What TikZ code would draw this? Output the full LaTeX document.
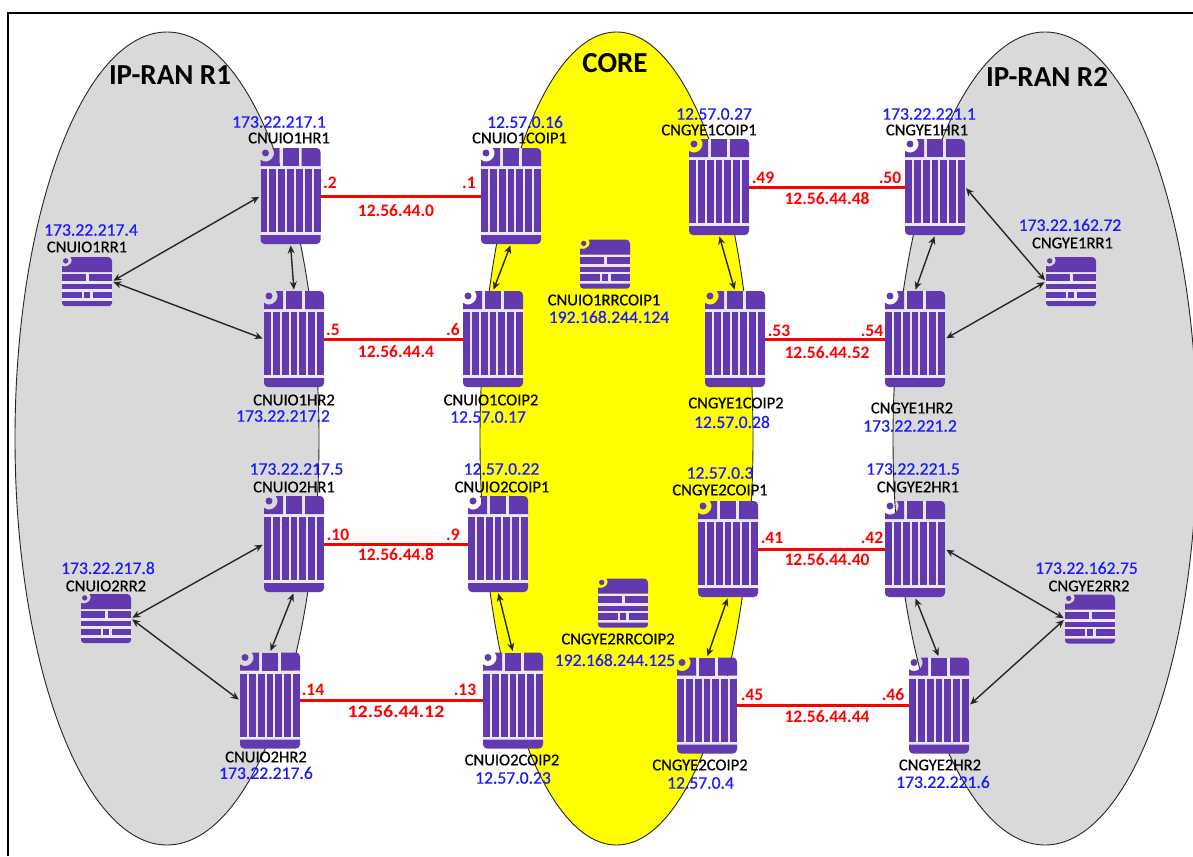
\documentclass[tikz,border=0pt]{standalone}
\usepackage{fontspec}
\setmainfont{Carlito}
\newfontfamily\labelfont[FakeBold=0.5]{Carlito}
\usetikzlibrary{arrows.meta}
\definecolor{devpurple}{HTML}{6339B0}
\definecolor{devgap}{HTML}{EDE8F7}
\definecolor{zonegray}{HTML}{D9D9D9}
\definecolor{corey}{HTML}{FFFF00}
\definecolor{ipblue}{HTML}{1A1AFF}
\definecolor{linkred}{HTML}{FF0000}
\tikzset{
  zone/.style={draw=black!85,line width=0.9pt},
  routerbox/.style={minimum width=60pt,minimum height=96pt,inner sep=0pt,outer sep=0pt},
  rrbox/.style={minimum width=50pt,minimum height=49pt,inner sep=0pt,outer sep=0pt},
  devname/.style={inner sep=0pt,text=black,font=\labelfont\fontsize{16.6}{17}\selectfont},
  devip/.style={inner sep=0pt,text=ipblue,font=\labelfont\fontsize{17.6}{18}\selectfont},
  linklabel/.style={inner sep=0pt,text=linkred,font=\fontsize{17.5}{18}\selectfont\bfseries},
  zonetitle/.style={inner sep=0pt,text=black,font=\fontsize{29}{30}\selectfont\bfseries},
  redlink/.style={draw=linkred,line width=3pt},
  peer/.style={draw=black!85,line width=1.4pt,{Stealth[length=8pt,width=7pt]}-{Stealth[length=8pt,width=7pt]},shorten >=1.5pt,shorten <=1.5pt},
  routericon/.pic={
    \fill[devgap] (19,0) rectangle (41,18);
    \fill[devgap] (0,18) rectangle (60,87);
    \fill[devpurple] (0,11.87) .. controls (7.83,17.57) and (17.57,7.83) .. (11.87,0) -- (19,0) -- (19,18) -- (0,18) -- cycle;
    \fill[devpurple] (5,5) circle (3.5);
    \fill[devpurple] (22,0) rectangle (38,18);
    \fill[devpurple] (41,0) -- (56,0) .. controls (58.2,0) and (60,1.8) .. (60,4) -- (60,18) -- (41,18) -- cycle;
    \foreach \i in {0,...,6} {\fill[devpurple] ({\i*8.86},21) rectangle ({\i*8.86+6.86},84);}
    \fill[devpurple] (0,87) -- (60,87) -- (60,92) .. controls (60,94.2) and (58.2,96) .. (56,96) -- (4,96) .. controls (1.8,96) and (0,94.2) .. (0,92) -- cycle;
  },
  rricon/.pic={
    \fill[devgap] (0,15) rectangle (50,44);
    \fill[devpurple] (8.5,0) -- (46,0) .. controls (48.2,0) and (50,1.8) .. (50,4) -- (50,15) -- (0,15) -- (0,9) .. controls (8,11) and (12,4) .. (8.5,0) -- cycle;
    \fill[devpurple] (3.7,3.9) circle (2.7);
    \fill[devpurple] (0,17) rectangle (24,24);
    \fill[devpurple] (27,17) rectangle (50,24);
    \fill[devpurple] (0,27) rectangle (50,32);
    \fill[devpurple] (0,34.5) rectangle (19.5,41);
    \fill[devpurple] (22,34.5) rectangle (28,41);
    \fill[devpurple] (30.5,34.5) rectangle (50,41);
    \fill[devpurple] (0,44) -- (50,44) -- (50,46) .. controls (50,47.7) and (48.7,49) .. (47,49) -- (3,49) .. controls (1.3,49) and (0,47.7) .. (0,46) -- cycle;
  }
}
\newcommand{\routerat}[3]{\node[routerbox] (#1) at (#2,#3) {}; \pic at (#1.north west) {routericon};}
\newcommand{\rrat}[3]{\node[rrbox] (#1) at (#2,#3) {}; \pic at (#1.north west) {rricon};}
\begin{document}
\begin{tikzpicture}[x=1pt,y=-1pt]
\useasboundingbox (0,0) rectangle (1193,856);
\clip (0,0) rectangle (1193,856);
\fill[white] (0,0) rectangle (1193,856);
% zones
\filldraw[zone,fill=zonegray] (167,438.5) ellipse [x radius=152,y radius=406.5];
\filldraw[zone,fill=corey] (616.5,438.5) ellipse [x radius=136.5,y radius=406.5];
\filldraw[zone,fill=zonegray] (1045,438.5) ellipse [x radius=152,y radius=406.5];
% frame
\draw[black,line width=2.4pt] (8,856) -- (8,13) -- (1193,13);
% devices
\routerat{uhra}{290.5}{196}
\routerat{uhrb}{294}{339}
\routerat{uhrc}{294}{544}
\routerat{uhrd}{270}{700.5}
\routerat{ucoa}{511}{196}
\routerat{ucob}{493}{339}
\routerat{ucoc}{498}{544}
\routerat{ucod}{513}{700.5}
\routerat{gcoa}{719}{187}
\routerat{gcob}{735}{339}
\routerat{gcoc}{728}{549}
\routerat{gcod}{707}{705.5}
\routerat{ghra}{935}{187}
\routerat{ghrb}{915}{339}
\routerat{ghrc}{915}{549}
\routerat{ghrd}{939}{705.5}
\rrat{urra}{87}{281.5}
\rrat{urrb}{106}{618.5}
\rrat{corea}{605}{264}
\rrat{coreb}{623}{603}
\rrat{grra}{1071}{281.5}
\rrat{grrb}{1090}{619}
% red links
\draw[redlink] (uhra) -- (ucoa);
\draw[redlink] (uhrb) -- (ucob);
\draw[redlink] (uhrc) -- (ucoc);
\draw[redlink] (uhrd) -- (ucod);
\draw[redlink] (gcoa) -- (ghra);
\draw[redlink] (gcob) -- (ghrb);
\draw[redlink] (gcoc) -- (ghrc);
\draw[redlink] (gcod) -- (ghrd);
% peer links
\draw[peer] (urra.east) -- (uhra.west);
\draw[peer] (urra.east) -- (uhrb.west);
\draw[peer] (urrb.east) -- (uhrc.west);
\draw[peer] (urrb.east) -- (uhrd.west);
\draw[peer] (uhra.south) -- (uhrb.north);
\draw[peer] (uhrc.south) -- (uhrd.north);
\draw[peer] (ucoa.south) -- (ucob.north);
\draw[peer] (ucoc.south) -- (ucod.north);
\draw[peer] (gcoa.south) -- (gcob.north);
\draw[peer] (gcoc.south) -- (gcod.north);
\draw[peer] (ghra.south) -- (ghrb.north);
\draw[peer] (ghrc.south) -- (ghrd.north);
\draw[peer] (grra.west) -- (ghra.east);
\draw[peer] (grra.west) -- (ghrb.east);
\draw[peer] (grrb.west) -- (ghrc.east);
\draw[peer] (grrb.west) -- (ghrd.east);
% titles
\node[zonetitle] (t1) at (170,75) {IP-RAN R1};
\node[zonetitle] (t2) at (615,63) {CORE};
\node[zonetitle] (t3) at (1047,77) {IP-RAN R2};
% device names
\node[devname] (n1) at (289,138) {CNUIO1HR1};
\node[devname] (n2) at (519.5,138) {CNUIO1COIP1};
\node[devname] (n3) at (709,130) {CNGYE1COIP1};
\node[devname] (n4) at (927,130) {CNGYE1HR1};
\node[devname] (n5) at (87,247) {CNUIO1RR1};
\node[devname] (n6) at (1072.5,243) {CNGYE1RR1};
\node[devname] (n7) at (604,300) {CNUIO1RRCOIP1};
\node[devname] (n8) at (294,400) {CNUIO1HR2};
\node[devname] (n9) at (491,400) {CNUIO1COIP2};
\node[devname] (n10) at (736,403) {CNGYE1COIP2};
\node[devname] (n11) at (912,408) {CNGYE1HR2};
\node[devname] (n12) at (294,487) {CNUIO2HR1};
\node[devname] (n13) at (502,487) {CNUIO2COIP1};
\node[devname] (n14) at (720,490) {CNGYE2COIP1};
\node[devname] (n15) at (918,487) {CNGYE2HR1};
\node[devname] (n16) at (106,586) {CNUIO2RR2};
\node[devname] (n17) at (1089,586) {CNGYE2RR2};
\node[devname] (n18) at (618,639) {CNGYE2RRCOIP2};
\node[devname] (n19) at (266,757) {CNUIO2HR2};
\node[devname] (n20) at (512,760) {CNUIO2COIP2};
\node[devname] (n21) at (700,765) {CNGYE2COIP2};
\node[devname] (n22) at (940,765) {CNGYE2HR2};
% addresses
\node[devip] (a1) at (279,122) {173.22.217.1};
\node[devip] (a2) at (525,122) {12.57.0.16};
\node[devip] (a3) at (714,114) {12.57.0.27};
\node[devip] (a4) at (929,114) {173.22.221.1};
\node[devip] (a5) at (91,230) {173.22.217.4};
\node[devip] (a6) at (1070,225) {173.22.162.72};
\node[devip] (a7) at (609,317) {192.168.244.124};
\node[devip] (a8) at (283,416) {173.22.217.2};
\node[devip] (a9) at (488,417) {12.57.0.17};
\node[devip] (a10) at (732,422) {12.57.0.28};
\node[devip] (a11) at (910,426) {173.22.221.2};
\node[devip] (a12) at (296.5,469) {173.22.217.5};
\node[devip] (a13) at (501.5,469) {12.57.0.22};
\node[devip] (a14) at (720,473) {12.57.0.3};
\node[devip] (a15) at (913,469) {173.22.221.5};
\node[devip] (a16) at (108,568) {173.22.217.8};
\node[devip] (a17) at (1086.5,568) {173.22.162.75};
\node[devip] (a18) at (615,660) {192.168.244.125};
\node[devip] (a19) at (266,773) {173.22.217.6};
\node[devip] (a20) at (513,778) {12.57.0.23};
\node[devip] (a21) at (700.5,783) {12.57.0.4};
\node[devip] (a22) at (943,782) {173.22.221.6};
% link labels
\node[linklabel] (r1) at (330,183) {.2};
\node[linklabel] (r2) at (469,183) {.1};
\node[linklabel] (r3) at (396,211) {12.56.44.0};
\node[linklabel] (r4) at (333,330) {.5};
\node[linklabel] (r5) at (453,330) {.6};
\node[linklabel] (r6) at (396,352) {12.56.44.4};
\node[linklabel] (r7) at (338,535) {.10};
\node[linklabel] (r8) at (453,535) {.9};
\node[linklabel] (r9) at (396,555) {12.56.44.8};
\node[linklabel] (r10) at (313,690) {.14};
\node[linklabel] (r11) at (465,690) {.13};
\node[linklabel] (r12) at (396,712) {\scalebox{1.14}[1]{12.56.44.12}};
\node[linklabel] (r13) at (763,178) {.49};
\node[linklabel] (r14) at (890,178) {.50};
\node[linklabel] (r15) at (827,199) {12.56.44.48};
\node[linklabel] (r16) at (779,331) {.53};
\node[linklabel] (r17) at (872,331) {.54};
\node[linklabel] (r18) at (827,353) {12.56.44.52};
\node[linklabel] (r19) at (772,538) {.41};
\node[linklabel] (r20) at (872,538) {.42};
\node[linklabel] (r21) at (827,560) {12.56.44.40};
\node[linklabel] (r22) at (752,695) {.45};
\node[linklabel] (r23) at (893,695) {.46};
\node[linklabel] (r24) at (827,717) {12.56.44.44};
\end{tikzpicture}
\end{document}
